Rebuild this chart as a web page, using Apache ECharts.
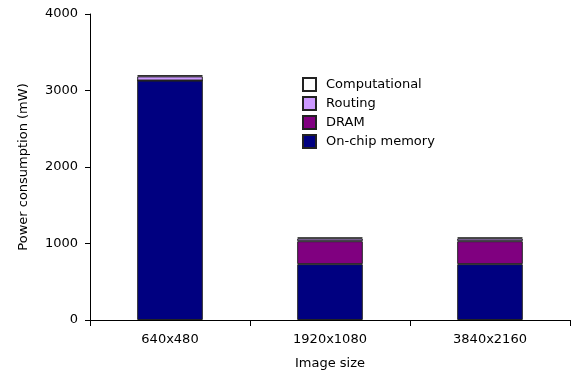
<!DOCTYPE html>
<html><head><meta charset="utf-8">
<script src="https://cdn.jsdelivr.net/npm/echarts@6/dist/echarts.min.js"></script>
<style>html,body{margin:0;padding:0;background:#fff}#c{width:575px;height:378px}</style>
</head><body><div id="c"></div>
<script>
const categories = ['640x480', '1920x1080', '3840x2160'];
const onChipMemory = [3130, 730, 730];
const dram = [0, 300, 300];
const routing = [55, 35, 35];
const computational = [15, 15, 15];
const yTicks = [0, 1000, 2000, 3000, 4000];

const font = 'DejaVu Sans, Verdana, sans-serif';
const fs = 13;
const chart = echarts.init(document.getElementById('c'));
function s(name, data, color) {
  return {name, type: 'bar', stack: 'p', data, barWidth: '41%',
    itemStyle: {color, borderColor: '#222', borderWidth: 1}};
}
chart.setOption({
  animation: false,
  textStyle: {fontFamily: font},
  grid: {left: 90, right: 5, top: 14, bottom: 58},
  legend: {
    orient: 'vertical', left: 302, top: 77, itemWidth: 13, itemHeight: 13, itemGap: 4,
    icon: 'rect', padding: 0,
    textStyle: {fontFamily: font, fontSize: fs, color: '#000', padding: [0, 0, 0, 5]},
    data: ['Computational', 'Routing', 'DRAM', 'On-chip memory']
  },
  xAxis: {
    type: 'category', data: categories,
    name: 'Image size', nameLocation: 'middle', nameGap: 37,
    nameTextStyle: {fontFamily: font, fontSize: fs, color: '#000'},
    axisLine: {lineStyle: {color: '#000'}},
    axisTick: {show: true, length: 6, lineStyle: {color: '#000'}},
    axisLabel: {fontFamily: font, fontSize: fs, color: '#000', margin: 13}
  },
  yAxis: {
    type: 'value', min: yTicks[0], max: yTicks[yTicks.length - 1], interval: 1000,
    name: 'Power consumption (mW)', nameLocation: 'middle', nameGap: 60,
    nameTextStyle: {fontFamily: font, fontSize: fs, color: '#000'},
    axisLine: {show: true, lineStyle: {color: '#000'}},
    axisTick: {show: true, length: 5, lineStyle: {color: '#000'}},
    axisLabel: {fontFamily: font, fontSize: fs, color: '#000', margin: 12,
      formatter: v => String(v)},
    splitLine: {show: false}
  },
  series: [
    s('On-chip memory', onChipMemory, '#000080'),
    s('DRAM', dram, '#800080'),
    s('Routing', routing, '#CC99FF'),
    s('Computational', computational, '#FFFFFF')
  ]
});
</script></body></html>
